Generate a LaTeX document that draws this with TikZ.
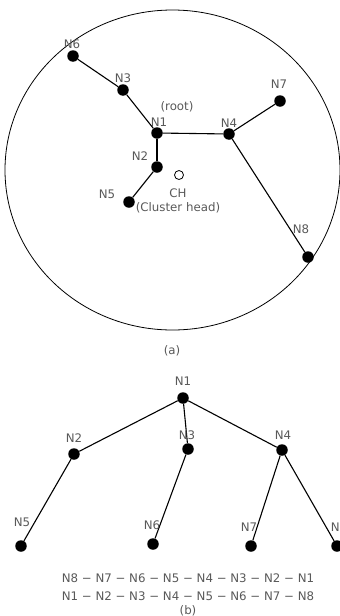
\documentclass[tikz,border=0pt]{standalone}
\usepackage{fontspec}
\setmainfont{DejaVu Sans}
\begin{document}
\begin{tikzpicture}[x=1pt,y=-1pt,
  dot/.style={circle,fill=black,inner sep=0pt,minimum size=11.5pt},
  opendot/.style={circle,draw=black,line width=0.8pt,fill=white,inner sep=0pt,minimum size=9pt},
  lbl/.style={inner sep=0pt,text=black!65,font=\fontsize{11.8}{14}\selectfont},
  edge/.style={draw=black,line width=1.1pt},
  every path/.style={}]
\useasboundingbox (0,0) rectangle (340,616);
% (a)
\draw[line width=0.8pt] (172.5,170) ellipse [x radius=167.5pt, y radius=160pt];
\node[dot] (a6) at (73,56) {};
\node[dot] (a3) at (123,90) {};
\node[dot] (a1) at (157,133) {};
\node[dot] (a4) at (229,134) {};
\node[dot] (a7) at (280,101) {};
\node[dot] (a2) at (157,167) {};
\node[dot] (a5) at (129,202) {};
\node[dot] (a8) at (308,257) {};
\node[opendot] (ch) at (179,175) {};
\draw[edge] (a6) -- (a3);
\draw[edge] (a3) -- (a1);
\draw[edge] (a1) -- (a4);
\draw[edge] (a4) -- (a7);
\draw[edge] (a4) -- (a8);
\draw[edge] (a1) -- (a2);
\draw[edge] (a2) -- (a5);
\node[lbl] (la6) at (72,44) {N6};
\node[lbl] (la3) at (123,78) {N3};
\node[lbl] (la1) at (159,122) {N1};
\node[lbl] (lroot) at (177,107) {(root)};
\node[lbl] (la4) at (229,123) {N4};
\node[lbl] (la7) at (279,84) {N7};
\node[lbl] (la2) at (140,156) {N2};
\node[lbl] (la5) at (107,194) {N5};
\node[lbl] (la8) at (301,229) {N8};
\node[lbl] (lch) at (178,193) {CH};
\node[lbl] (lclh) at (178,208) {(Cluster head)};
\node[lbl] (capa) at (172,351) {(a)};
% (b)
\node[dot] (b1) at (183,398) {};
\node[dot] (b2) at (74,454) {};
\node[dot] (b3) at (188,449) {};
\node[dot] (b4) at (282,450) {};
\node[dot] (b5) at (21,546) {};
\node[dot] (b6) at (153,544) {};
\node[dot] (b7) at (251,546) {};
\node[dot] (b8) at (337,546) {};
\draw[edge] (b1) -- (b2);
\draw[edge] (b1) -- (b3);
\draw[edge] (b1) -- (b4);
\draw[edge] (b2) -- (b5);
\draw[edge] (b3) -- (b6);
\draw[edge] (b4) -- (b7);
\draw[edge] (b4) -- (b8);
\node[lbl] (lb1) at (183,381) {N1};
\node[lbl] (lb2) at (74,438) {N2};
\node[lbl] (lb3) at (187,435) {N3};
\node[lbl] (lb4) at (283,435) {N4};
\node[lbl] (lb5) at (22,522) {N5};
\node[lbl] (lb6) at (152,525) {N6};
\node[lbl] (lb7) at (249,527) {N7};
\node[lbl] (lb8) at (339,527) {N8};
\node[lbl] (seq1) at (188,578) {N8 − N7 − N6 − N5 − N4 − N3 − N2 − N1};
\node[lbl] (seq2) at (188,596) {N1 − N2 − N3 − N4 − N5 − N6 − N7 − N8};
\node[lbl] (capb) at (188,611) {(b)};
\end{tikzpicture}
\end{document}
